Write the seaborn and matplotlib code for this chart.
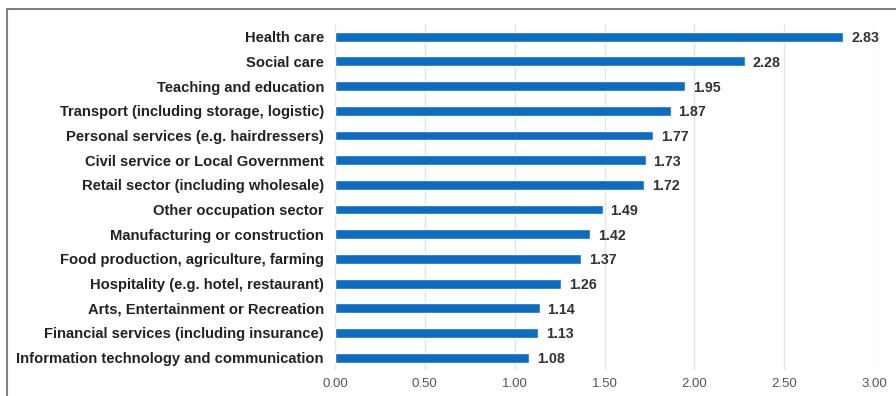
import matplotlib
matplotlib.use("Agg")
import matplotlib.pyplot as plt
import seaborn as sns
import pandas as pd
from matplotlib.patches import Rectangle

categories = [
    "Health care",
    "Social care",
    "Teaching and education",
    "Transport (including storage, logistic)",
    "Personal services (e.g. hairdressers)",
    "Civil service or Local Government",
    "Retail sector (including wholesale)",
    "Other occupation sector",
    "Manufacturing or construction",
    "Food production, agriculture, farming",
    "Hospitality (e.g. hotel, restaurant)",
    "Arts, Entertainment or Recreation",
    "Financial services (including insurance)",
    "Information technology and communication",
]
values = [2.83, 2.28, 1.95, 1.87, 1.77, 1.73, 1.72, 1.49, 1.42, 1.37, 1.26, 1.14, 1.13, 1.08]
xticks = [0.0, 0.5, 1.0, 1.5, 2.0, 2.5, 3.0]

df = pd.DataFrame({"category": categories, "value": values})

sns.set_theme(style="white")
plt.rcParams["font.family"] = ["Liberation Sans", "DejaVu Sans"]

fig = plt.figure(figsize=(8.96, 3.96), dpi=100)
left, right = 335 / 896, 874 / 896
bottom, top = 1 - 370 / 396, 1 - 24.4 / 396
ax = fig.add_axes([left, bottom, right - left, top - bottom])

sns.barplot(data=df, x="value", y="category", orient="h", color="#0b6cc1",
            saturation=1, width=0.40, ax=ax, zorder=3)

ax.set_xlim(0, 3.0)
ax.set_ylim(len(categories) - 0.5, -0.5)
ax.set_xticks(xticks)
ax.set_xticklabels([f"{t:.2f}" for t in xticks], fontsize=9.5, color="#555555")
ax.tick_params(axis="y", length=0, pad=8, labelsize=10.6)
ax.tick_params(axis="x", length=0, pad=6)
for lbl in ax.get_yticklabels():
    lbl.set_fontweight("bold")
    lbl.set_color("#222222")
ax.set_xlabel("")
ax.set_ylabel("")
ax.xaxis.grid(True, color="#e3e3e3", linewidth=1, zorder=0)
for s in ax.spines.values():
    s.set_visible(False)

for i, v in enumerate(values):
    ax.annotate(f"{v:.2f}", xy=(v, i), xytext=(5.5, -1), textcoords="offset points",
                va="center", ha="left", fontsize=10.3, fontweight="bold", color="#333333")

# outer frame
fig.patches.append(Rectangle((7 / 896, -0.05), 1.0, 1 - 9 / 396 + 0.05,
                             transform=fig.transFigure, fill=False,
                             edgecolor="#808080", linewidth=1.5))

fig.savefig("out.png", dpi=100)
